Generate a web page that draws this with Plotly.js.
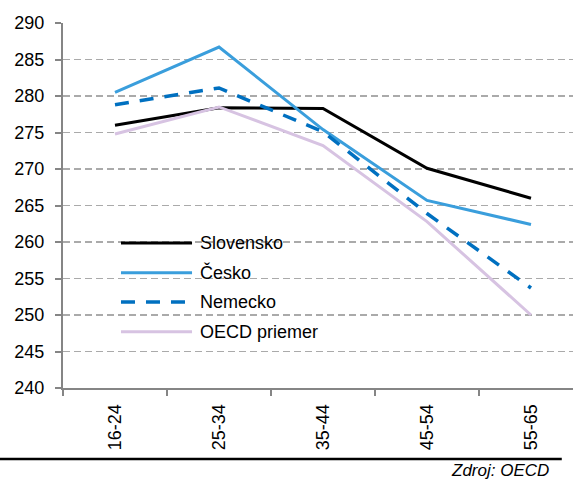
<!DOCTYPE html>
<html>
<head>
<meta charset="utf-8">
<script src="https://cdn.plot.ly/plotly-3.0.1.min.js"></script>
<style>
html,body{margin:0;padding:0;background:#fff;}
#chart{width:573px;height:482px;}
</style>
</head>
<body>
<div id="chart"></div>
<script>
const categories = ["16-24", "25-34", "35-44", "45-54", "55-65"];
const slovensko = [276.0, 278.4, 278.3, 270.1, 266.0];
const cesko = [280.5, 286.7, 275.4, 265.7, 262.4];
const nemecko = [278.8, 281.1, 275.1, 263.9, 253.7];
const oecd = [274.8, 278.5, 273.2, 262.8, 250.0];
const seriesNames = ["Slovensko", "Česko", "Nemecko", "OECD priemer"];
const sourceText = "Zdroj: OECD";

const FONT = '"Liberation Sans Narrow", "Arial Narrow", "Liberation Sans", Arial, sans-serif';
const styles = [
  {color: "#000000", width: 3, dash: "solid"},
  {color: "#3A9EDC", width: 3, dash: "solid"},
  {color: "#0070C0", width: 3.5, dash: "14px,11px"},
  {color: "#D7C3E2", width: 3, dash: "solid"}
];
const values = [slovensko, cesko, nemecko, oecd];

const traces = values.map((v, i) => ({
  x: categories,
  y: v,
  type: "scatter",
  mode: "lines",
  name: seriesNames[i],
  line: {color: styles[i].color, width: styles[i].width, dash: styles[i].dash},
  showlegend: false,
  hoverinfo: "skip"
}));

// custom legend (long symbol lines like the reference)
const legendRowsY = [0.397, 0.316, 0.2356, 0.154];
const shapes = [];
const annotations = [];
seriesNames.forEach((n, i) => {
  shapes.push({
    type: "line", xref: "paper", yref: "paper",
    x0: 0.1137, x1: 0.253, y0: legendRowsY[i], y1: legendRowsY[i],
    line: {color: styles[i].color, width: styles[i].width, dash: styles[i].dash}
  });
  annotations.push({
    xref: "paper", yref: "paper", x: 0.2647, y: legendRowsY[i],
    xanchor: "left", yanchor: "middle", showarrow: false,
    text: n, font: {family: FONT, size: 18, color: "#000"}
  });
});
// bottom rule + source
shapes.push({
  type: "line", xref: "paper", yref: "paper",
  x0: -0.13, x1: 0.978, y0: -0.1945, y1: -0.1945,
  line: {color: "#000", width: 2.5}
});
annotations.push({
  xref: "paper", yref: "paper", x: 0.957, y: -0.2247,
  xanchor: "right", yanchor: "middle", showarrow: false,
  text: "<i>" + sourceText + "</i>", font: {family: FONT, size: 17, color: "#000"}
});

const layout = {
  width: 573, height: 482,
  margin: {l: 63, r: 0, t: 23, b: 94, pad: 0},
  paper_bgcolor: "#fff", plot_bgcolor: "#fff",
  font: {family: FONT, size: 18, color: "#000"},
  xaxis: {
    type: "category",
    range: [-0.5, 4.404],
    showline: true, linecolor: "#858585", linewidth: 2,
    ticks: "outside", tickson: "boundaries", ticklen: 6, tickwidth: 2, tickcolor: "#858585",
    tickangle: -90, showgrid: false, zeroline: false,
    ticklabelstandoff: 7,
    tickfont: {family: FONT, size: 18, color: "#000"}
  },
  yaxis: {
    range: [240, 290],
    tickvals: [240, 245, 250, 255, 260, 265, 270, 275, 280, 285, 290],
    showline: true, linecolor: "#858585", linewidth: 2,
    ticks: "outside", ticklen: 6, tickwidth: 2, tickcolor: "#858585",
    showgrid: true, gridcolor: "#AAAAAA", gridwidth: 1.6, griddash: "7px,4px",
    zeroline: false, ticklabelstandoff: 7,
    tickfont: {family: FONT, size: 18, color: "#000"}
  },
  shapes: shapes,
  annotations: annotations,
  showlegend: false
};

Plotly.newPlot("chart", traces, layout, {staticPlot: true, displayModeBar: false});
</script>
</body>
</html>
